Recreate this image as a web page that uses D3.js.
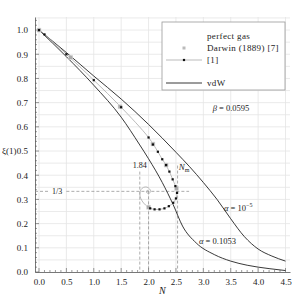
<!DOCTYPE html>
<html>
<head>
<meta charset="utf-8">
<script src="https://cdn.jsdelivr.net/npm/d3@7"></script>
<style>
body { margin: 0; background: #fff; }
svg text { font-family: "Liberation Serif", serif; fill: #222; }
</style>
</head>
<body>
<div id="chart"></div>
<script>
// ticks
var xTicks = [0, 0.5, 1.0, 1.5, 2.0, 2.5, 3.0, 3.5, 4.0, 4.5];
var yTicks = [0, 0.1, 0.2, 0.3, 0.4, 0.5, 0.6, 0.7, 0.8, 0.9, 1.0];

// vdW, alpha = 1e-5
var vdwUpperN  = [0, 0.5, 1.0, 1.5, 2.0, 2.5, 2.75, 3.0, 3.25, 3.5, 3.75, 4.0, 4.25, 4.5];
var vdwUpperXi = [1.0, 0.907, 0.81, 0.715, 0.61, 0.495, 0.435, 0.37, 0.30, 0.22, 0.146, 0.095, 0.066, 0.045];

// vdW, alpha = 0.1053
var vdwLowerN  = [0, 0.5, 1.0, 1.5, 1.84, 2.0, 2.25, 2.45, 2.62, 2.87, 3.2, 3.5, 3.8, 4.2, 4.5];
var vdwLowerXi = [1.0, 0.89, 0.772, 0.64, 0.525, 0.468, 0.37, 0.278, 0.19, 0.12, 0.072, 0.045, 0.028, 0.014, 0.006];

// [1] curve (with spiral)
var refN  = [0, 0.1, 0.5, 1.0, 1.5, 2.0, 2.17, 2.25, 2.32, 2.38, 2.44, 2.49, 2.52, 2.5, 2.45, 2.37, 2.29, 2.2, 2.11, 2.03, 1.98, 1.91, 1.86, 1.84, 1.86, 1.91, 1.97, 2.02, 2.04, 2.01, 1.97, 1.96, 1.99, 2.0];
var refXi = [1.0, 0.982, 0.9, 0.793, 0.681, 0.556, 0.497, 0.466, 0.442, 0.415, 0.383, 0.355, 0.327, 0.304, 0.286, 0.272, 0.263, 0.259, 0.259, 0.263, 0.27, 0.285, 0.303, 0.322, 0.34, 0.35, 0.351, 0.343, 0.333, 0.325, 0.327, 0.334, 0.338, 0.334];
var refDotN  = [0, 0.1, 0.5, 1.0, 1.5, 2.0, 2.08, 2.17, 2.25, 2.32, 2.38, 2.44, 2.49, 2.52, 2.5, 2.45, 2.37, 2.29, 2.2, 2.11, 2.03];
var refDotXi = [1.0, 0.982, 0.9, 0.793, 0.681, 0.556, 0.527, 0.497, 0.466, 0.442, 0.415, 0.383, 0.355, 0.327, 0.304, 0.286, 0.272, 0.263, 0.259, 0.259, 0.263];

// Darwin (1889)
var darwinN  = [0, 0.58, 1.48, 2.08, 2.32, 2.51, 2.0];
var darwinXi = [1.0, 0.887, 0.683, 0.529, 0.442, 0.345, 0.268];

var W = 299, H = 297;
var svg = d3.select("#chart").append("svg").attr("width", W).attr("height", H);

var x = d3.scaleLinear().domain([-0.073, 4.582]).range([35, 290]);
var y = d3.scaleLinear().domain([0, 1.054]).range([272, 17]);

// grid
var g = svg.append("g");
g.selectAll(".vg").data(xTicks).enter().append("line")
  .attr("x1", function(d){ return x(d); }).attr("x2", function(d){ return x(d); })
  .attr("y1", y(0)).attr("y2", y(1.054))
  .attr("stroke", "#e4e4e4").attr("stroke-width", 0.8);
g.selectAll(".hg").data(d3.range(0.05, 1.06, 0.05)).enter().append("line")
  .attr("x1", x(-0.073)).attr("x2", x(4.582))
  .attr("y1", function(d){ return y(d); }).attr("y2", function(d){ return y(d); })
  .attr("stroke", "#e4e4e4").attr("stroke-width", 0.8);

// axes
var xAxis = d3.axisBottom(x).tickValues(xTicks).tickFormat(d3.format(".1f")).tickSize(0).tickPadding(7);
var yAxis = d3.axisLeft(y).tickValues(yTicks).tickFormat(d3.format(".1f")).tickSize(0).tickPadding(7);
var gx = svg.append("g").attr("transform", "translate(0," + y(0) + ")").call(xAxis);
var gy = svg.append("g").attr("transform", "translate(" + x(-0.073) + ",0)").call(yAxis);
[gx, gy].forEach(function(a){
  a.select(".domain").attr("stroke", "#555").attr("stroke-width", 0.8);
  a.selectAll("text").attr("font-size", 9).attr("font-family", "Liberation Serif").attr("fill", "#333");
});
// minor ticks (inward)
svg.selectAll(".xt").data(d3.range(0, 46).map(function(i){ return i / 10; })).enter().append("line")
  .attr("x1", function(d){ return x(d); }).attr("x2", function(d){ return x(d); })
  .attr("y1", y(0)).attr("y2", function(d, i){ return y(0) - (i % 5 === 0 ? 4 : 2); })
  .attr("stroke", "#555").attr("stroke-width", 0.6);
svg.selectAll(".yt").data(d3.range(0, 53).map(function(i){ return i / 50; })).enter().append("line")
  .attr("y1", function(d){ return y(d); }).attr("y2", function(d){ return y(d); })
  .attr("x1", x(-0.073)).attr("x2", function(d, i){ return x(-0.073) + (i % 5 === 0 ? 4 : 2); })
  .attr("stroke", "#555").attr("stroke-width", 0.6);

svg.append("text").attr("x", 2).attr("y", y(0.5) + 3).attr("font-size", 9).text("ξ(1)");
svg.append("text").attr("x", x(2.25)).attr("y", 294).attr("text-anchor", "middle")
  .attr("font-size", 10).attr("font-style", "italic").text("N");

// dashed guides
var dash = svg.append("g").attr("stroke", "#888").attr("stroke-width", 0.7).attr("stroke-dasharray", "3,2").attr("fill", "none");
dash.append("line").attr("x1", x(-0.073)).attr("x2", x(0.17)).attr("y1", y(1/3)).attr("y2", y(1/3));
dash.append("line").attr("x1", x(0.5)).attr("x2", x(2.74)).attr("y1", y(1/3)).attr("y2", y(1/3));
dash.append("line").attr("x1", x(1.84)).attr("x2", x(1.84)).attr("y1", y(0.415)).attr("y2", y(0));
dash.append("line").attr("x1", x(2.0)).attr("x2", x(2.0)).attr("y1", y(1/3)).attr("y2", y(0));
dash.append("line").attr("x1", x(2.53)).attr("x2", x(2.53)).attr("y1", y(0.44)).attr("y2", y(0));
svg.append("text").attr("x", x(0.33)).attr("y", y(1/3) + 3).attr("text-anchor", "middle").attr("font-size", 8).text("1/3");
svg.append("text").attr("x", x(1.84)).attr("y", y(0.43)).attr("text-anchor", "middle").attr("font-size", 8).text("1.84");

var line = d3.line().x(function(d){ return x(d[0]); }).y(function(d){ return y(d[1]); });

// vdW curves
svg.append("path").datum(d3.zip(vdwUpperN, vdwUpperXi))
  .attr("d", line.curve(d3.curveMonotoneX)).attr("fill", "none").attr("stroke", "#222").attr("stroke-width", 0.9);
svg.append("path").datum(d3.zip(vdwLowerN, vdwLowerXi))
  .attr("d", line.curve(d3.curveMonotoneX)).attr("fill", "none").attr("stroke", "#222").attr("stroke-width", 0.9);

// [1] curve
svg.append("path").datum(d3.zip(refN, refXi))
  .attr("d", line.curve(d3.curveCatmullRom)).attr("fill", "none").attr("stroke", "#aaa").attr("stroke-width", 0.8);

// Darwin squares
svg.selectAll(".dw").data(d3.zip(darwinN, darwinXi)).enter().append("rect")
  .attr("x", function(d){ return x(d[0]) - 2; }).attr("y", function(d){ return y(d[1]) - 2; })
  .attr("width", 4).attr("height", 4).attr("fill", "#aaa").attr("stroke", "#ddd").attr("stroke-width", 0.5);

// [1] dots
svg.selectAll(".rd").data(d3.zip(refDotN, refDotXi)).enter().append("rect")
  .attr("x", function(d){ return x(d[0]) - 1.1; }).attr("y", function(d){ return y(d[1]) - 1.1; })
  .attr("width", 2.2).attr("height", 2.2).attr("fill", "#111");

// annotations
svg.append("text").attr("x", x(2.55)).attr("y", y(0.42)).attr("font-size", 9).attr("font-style", "italic")
  .html('N<tspan font-size="6" dy="2" font-style="normal">m</tspan>');
svg.append("text").attr("x", 224).attr("y", 211).attr("font-size", 8.5)
  .html('<tspan font-style="italic">α</tspan> = 10<tspan font-size="6" dy="-4">−5</tspan>');
svg.append("text").attr("x", 199).attr("y", 244).attr("font-size", 8.5)
  .html('<tspan font-style="italic">α</tspan> = 0.1053');
svg.append("text").attr("x", 231).attr("y", 111).attr("font-size", 8.5).attr("text-anchor", "middle")
  .html('<tspan font-style="italic">β</tspan> = 0.0595');

// legend
var lg = svg.append("g");
lg.append("rect").attr("x", 162).attr("y", 22).attr("width", 123).attr("height", 68)
  .attr("fill", "#fff").attr("stroke", "#999").attr("stroke-width", 0.8);
var lgText = ["perfect gas", "Darwin (1889) [7]", "[1]", "vdW"];
var lgY = [36, 48, 60, 83];
lg.selectAll("text").data(lgText).enter().append("text")
  .attr("x", 207).attr("y", function(d, i){ return lgY[i] + 3; })
  .attr("font-size", 9).attr("letter-spacing", 0.35).text(function(d){ return d; });
lg.append("rect").attr("x", 182.5).attr("y", 46.5).attr("width", 3).attr("height", 3).attr("fill", "#bbb");
lg.append("line").attr("x1", 166).attr("x2", 202).attr("y1", 60).attr("y2", 60).attr("stroke", "#aaa").attr("stroke-width", 0.8);
lg.append("rect").attr("x", 182.9).attr("y", 58.9).attr("width", 2.2).attr("height", 2.2).attr("fill", "#111");
lg.append("line").attr("x1", 166).attr("x2", 202).attr("y1", 83).attr("y2", 83).attr("stroke", "#222").attr("stroke-width", 0.9);
</script>
</body>
</html>
